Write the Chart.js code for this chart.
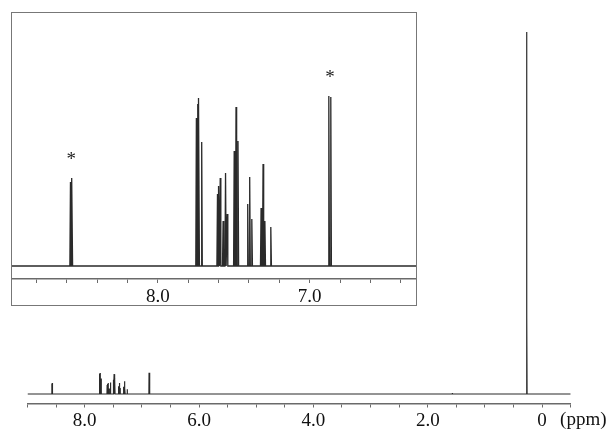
<!DOCTYPE html>
<html>
<head>
<meta charset="utf-8">
<script src="https://cdn.jsdelivr.net/npm/chart.js@4.4.0/dist/chart.umd.min.js"></script>
<style>
html, body { margin: 0; padding: 0; background: #fff; }
#wrap { position: relative; width: 615px; height: 439px; }
#mainChart { position: absolute; left: 0; top: 0; }
#insetBox { position: absolute; left: 11px; top: 12px; width: 404px; height: 292px; border: 1px solid #777; background: #fff; }
#insetChart { display: block; }
</style>
</head>
<body>
<div id="wrap">
  <canvas id="mainChart" width="615" height="439"></canvas>
  <div id="insetBox"><canvas id="insetChart" width="404" height="292"></canvas></div>
</div>
<script>
// 1H NMR lines: shift (ppm) and intensity (arbitrary units)
const shifts  = [8.575, 8.565,
                 7.746, 7.737, 7.730, 7.711,
                 7.607, 7.598, 7.589, 7.570, 7.554, 7.543,
                 7.500, 7.497, 7.485, 7.472,
                 7.408, 7.395, 7.381,
                 7.320, 7.307, 7.295,
                 7.256,
                 6.874, 6.861,
                 1.57,
                 0.272, 0.266];
const heights = [84, 88,
                 148, 162, 168, 124,
                 72, 80, 88, 45, 93, 52,
                 22, 115, 159, 125,
                 62, 89, 47,
                 58, 102, 45,
                 39,
                 170, 169,
                 8,
                 2896, 632];
const starred = [8.57, 6.867];

const mainTicks  = [9.0, 8.5, 8.0, 7.5, 7.0, 6.5, 6.0, 5.5, 5.0, 4.5, 4.0, 3.5, 3.0, 2.5, 2.0, 1.5, 1.0, 0.5, 0.0, -0.5];
const mainLabels = [8, 6, 4, 2, 0];
const insetTicks  = [8.8, 8.6, 8.4, 8.2, 8.0, 7.8, 7.6, 7.4, 7.2, 7.0, 6.8, 6.6, 6.4];
const insetLabels = [8, 7];

const FONT = "'Liberation Serif', 'Times New Roman', serif";
const LINE = '#2a2a2a';
const AXIS = '#6a6a6a';

// stick-like lines on a flat baseline
function spectrum(lo, hi, w) {
    const pts = [{x: hi, y: 0}];
    shifts.forEach((s, i) => {
        pts.push({x: s + w, y: 0}, {x: s, y: heights[i]}, {x: s - w, y: 0});
    });
    pts.push({x: lo, y: 0});
    return pts;
}

function fmt(v, list) {
    if (!list.includes(v)) return '';
    return v === 0 ? '0' : v.toFixed(1);
}

function xAxis(lo, hi, ticks, labels, pad, h) {
    return {
        type: 'linear', reverse: true, min: lo, max: hi,
        afterBuildTicks: s => { s.ticks = ticks.map(v => ({value: v})); },
        afterFit: s => { s.height = h; },
        grid: { drawOnChartArea: false, drawTicks: true, tickLength: 4, color: AXIS, lineWidth: 1 },
        border: { display: true, color: AXIS, width: 1.5 },
        ticks: {
            autoSkip: false, maxRotation: 0, padding: pad, color: '#111',
            font: { family: FONT, size: 19 },
            callback: v => fmt(v, labels)
        }
    };
}

// "(ppm)" unit text after the 0 label
const unitPlugin = {
    id: 'unit',
    afterDraw(chart) {
        const x = chart.scales.x, ctx = chart.ctx;
        ctx.save();
        ctx.font = '19px ' + FONT;
        ctx.fillStyle = '#111';
        ctx.textAlign = 'left';
        ctx.textBaseline = 'middle';
        ctx.fillText('(ppm)', x.getPixelForValue(0) + 18, x.top + 17);
        ctx.restore();
    }
};

// asterisks over the marked signals
const starPlugin = {
    id: 'stars',
    afterDatasetsDraw(chart) {
        const {ctx, scales: {x, y}} = chart;
        ctx.save();
        ctx.font = '19px ' + FONT;
        ctx.fillStyle = '#222';
        ctx.textAlign = 'center';
        ctx.textBaseline = 'middle';
        starred.forEach(s => {
            let h = 0;
            shifts.forEach((v, i) => { if (Math.abs(v - s) < 0.02) h = Math.max(h, heights[i]); });
            ctx.fillText('*', x.getPixelForValue(s), y.getPixelForValue(h) - 18);
        });
        ctx.restore();
    }
};

// Full spectrum
const mainCtx = document.getElementById('mainChart').getContext('2d');
const mainChart = new Chart(mainCtx, {
    type: 'scatter',
    data: {
        datasets: [{
            data: spectrum(-0.5, 9.0, 0.003),
            showLine: true,
            borderColor: LINE,
            borderWidth: 1.2,
            pointRadius: 0,
            tension: 0
        }]
    },
    options: {
        responsive: false,
        animation: false,
        layout: { padding: { left: 27.5, right: 44.3, top: 19, bottom: 0 } },
        plugins: { legend: { display: false }, tooltip: { enabled: false } },
        scales: {
            x: xAxis(-0.5, 9.0, mainTicks, mainLabels, 2, 35.5),
            y: { display: false, min: -76, max: 3000 }
        }
    },
    plugins: [unitPlugin]
});

// Expanded aromatic region
const insetCtx = document.getElementById('insetChart').getContext('2d');
const insetChart = new Chart(insetCtx, {
    type: 'scatter',
    data: {
        datasets: [{
            data: spectrum(-0.5, 9.0, 0.004),
            showLine: true,
            borderColor: LINE,
            borderWidth: 1.3,
            pointRadius: 0,
            tension: 0
        }]
    },
    options: {
        responsive: false,
        animation: false,
        layout: { padding: { left: 0, right: 0, top: 1, bottom: 0 } },
        plugins: { legend: { display: false }, tooltip: { enabled: false } },
        scales: {
            x: xAxis(6.30, 8.96, insetTicks, insetLabels, 3, 26),
            y: { display: false, min: -13, max: 252 }
        }
    },
    plugins: [starPlugin]
});
</script>
</body>
</html>
